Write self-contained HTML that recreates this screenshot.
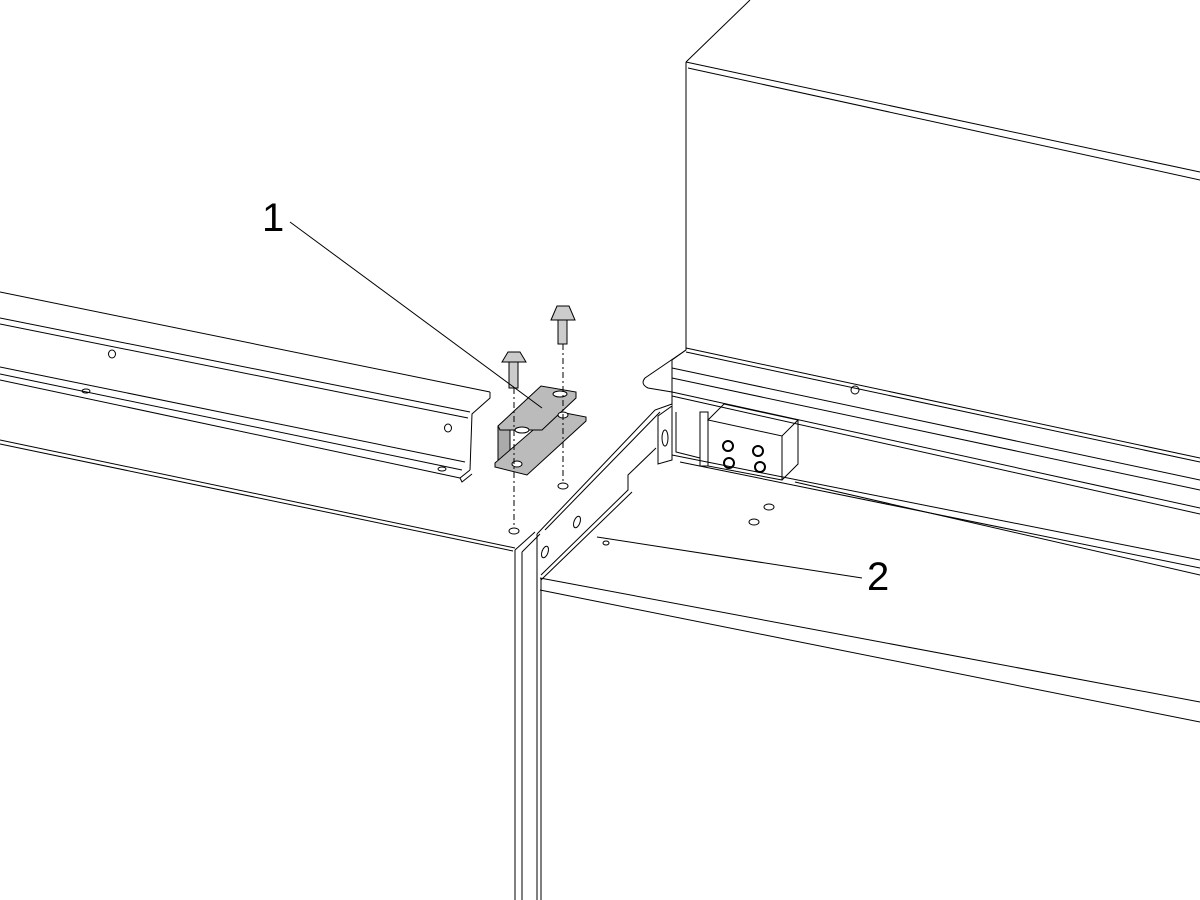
<!DOCTYPE html>
<html><head><style>html,body{margin:0;padding:0;background:#fff}svg{display:block}</style></head>
<body>
<svg width="1200" height="900" viewBox="0 0 1200 900" xmlns="http://www.w3.org/2000/svg" fill="none" stroke="#000" stroke-width="1">
<path d="M686,62 L750,0"/>
<path d="M686,62 L1200,172"/>
<path d="M688,68 L1200,180"/>
<path d="M686,62 L686,350"/>
<path d="M686,348 L1200,458"/>
<path d="M686,352 L1200,462"/>
<path d="M686,350 L672,360 L672,378"/>
<path d="M672,368 L1200,480"/>
<path d="M672,378 L1200,490"/>
<path d="M672,392 L1200,508"/>
<path d="M672,396 L1200,514"/>
<path d="M672,368 L672,405"/>
<path d="M686,350 L645,378 Q640,384 648,388 L672,392"/>
<ellipse cx="855" cy="390" rx="4" ry="4"/>
<path d="M672,455 L1200,560"/>
<path d="M680,462 L1200,568"/>
<path d="M795,482 L1200,575"/>
<path d="M708,420 L724,404 L798,420 L782,436 Z"/>
<path d="M708,420 L708,466 L782,480 L782,436"/>
<path d="M782,480 L798,464 L798,420"/>
<path d="M700,412 L708,412 L708,466 L700,466 Z"/>
<g stroke-width="2"><ellipse cx="728" cy="446" rx="5" ry="5"/><ellipse cx="729" cy="463" rx="5" ry="5"/><ellipse cx="758" cy="451" rx="5" ry="5"/><ellipse cx="760" cy="467" rx="5" ry="5"/></g>
<path d="M658,416 L672,406 L672,460 L658,464 Z"/>
<ellipse cx="665" cy="438" rx="3" ry="8"/>
<path d="M676,412 L676,452 L700,458"/>
<ellipse cx="769" cy="507" rx="5" ry="3"/>
<ellipse cx="754" cy="522" rx="5" ry="3"/>
<path d="M540,578 L1200,702"/>
<path d="M540,590 L1200,722"/>
<path d="M537,534 L537,900"/>
<path d="M541,578 L541,900"/>
<path d="M537,534 L655,410 L672,404"/>
<path d="M545,530 L660,412"/>
<path d="M541,575 L628,490 L628,475 L656,448"/>
<path d="M541,580 L632,492"/>
<ellipse cx="545" cy="552" rx="3" ry="6" transform="rotate(20 545 552)"/>
<ellipse cx="577" cy="522" rx="3" ry="6" transform="rotate(20 577 522)"/>
<ellipse cx="606" cy="543" rx="3" ry="2"/>
<path d="M0,292 L490,392"/>
<path d="M0,318 L470,412"/>
<path d="M0,324 L468,418"/>
<path d="M490,392 L490,398 L472,414 L470,470"/>
<path d="M0,367 L465,462"/>
<path d="M0,374 L462,470"/>
<path d="M0,380 L460,478"/>
<path d="M470,470 L460,478 L462,482 L472,474"/>
<ellipse cx="112" cy="354" rx="3.5" ry="4"/>
<ellipse cx="448" cy="428" rx="3.5" ry="4"/>
<ellipse cx="86" cy="391" rx="4" ry="2"/>
<ellipse cx="442" cy="469" rx="4" ry="2"/>
<path d="M0,440 L515,548"/>
<path d="M0,444 L513,551"/>
<path d="M515,550 L535,532"/>
<path d="M515,550 L515,900"/>
<path d="M522,552 L522,900"/>
<path d="M522,552 L540,534"/>
<!-- bracket -->
<path d="M498,426 L510,426 L510,466 L498,460 Z" fill="#aaa"/>
<path d="M495,463 L555,411 L586,417 L586,421 L527,475 L495,467 Z" fill="#bbb"/>
<path d="M498,426 L541,386 L576,392 L576,398 L542,430 L500,430 Z" fill="#bbb"/>
<ellipse cx="522" cy="430" rx="7" ry="3" fill="#fff"/>
<ellipse cx="560" cy="394" rx="7" ry="3" fill="#fff"/>
<ellipse cx="517" cy="464" rx="5" ry="3" fill="#fff"/>
<ellipse cx="563" cy="415" rx="5" ry="3" fill="#fff"/>
<path d="M509,362 L509,388 L518,388 L518,362" fill="#ccc"/>
<path d="M502,362 L508,352 L520,352 L526,362 Z" fill="#ccc"/>
<path d="M558,320 L558,344 L567,344 L567,320" fill="#ccc"/>
<path d="M551,320 L557,306 L569,306 L575,320 Z" fill="#ccc"/>
<path d="M514,388 L514,528" stroke-dasharray="6,3,2,3"/>
<path d="M563,344 L563,484" stroke-dasharray="6,3,2,3"/>
<ellipse cx="514" cy="531" rx="5" ry="3"/>
<ellipse cx="563" cy="486" rx="5" ry="3"/>
<path d="M290,222 L542,408"/>
<path d="M597,537 L862,578"/>
</svg>
<div style="position:absolute;left:262px;top:196px;font:40px 'Liberation Sans',sans-serif">1</div>
<div style="position:absolute;left:867px;top:555px;font:40px 'Liberation Sans',sans-serif">2</div>
</body></html>
